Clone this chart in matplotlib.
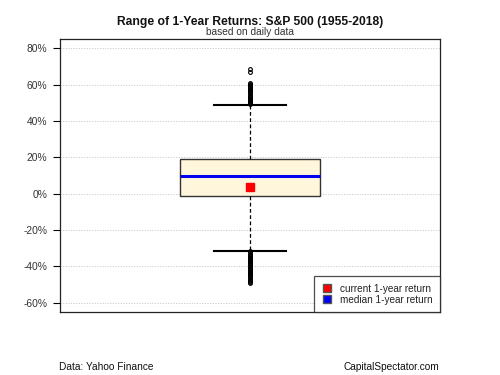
import matplotlib
matplotlib.use("Agg")
import matplotlib.pyplot as plt
from matplotlib.lines import Line2D

plt.rcParams['font.family'] = ['Liberation Sans', 'DejaVu Sans']

# Box statistics (percent)
q1 = -1.3
median = 9.7
q3 = 19.0
whisker_low = -31.4
whisker_high = 48.9
current = 3.9
upper_outliers = [49.3, 49.8, 50.4, 51.0, 51.6, 52.2, 52.8, 53.4, 54.0, 54.6, 55.2,
                  55.8, 56.4, 57.0, 57.6, 58.2, 58.8, 59.4, 60.0, 60.6, 61.2, 67.2, 68.6]
lower_outliers = [-31.8, -32.4, -33.0, -33.6, -34.2, -34.8, -35.4, -36.0, -36.6, -37.2,
                  -37.8, -38.4, -39.0, -39.6, -40.2, -40.8, -41.4, -42.0, -42.6, -43.2,
                  -43.8, -44.4, -45.0, -45.6, -46.2, -46.8, -47.4, -48.0, -48.6, -49.2]
yticks = [-60, -40, -20, 0, 20, 40, 60, 80]
ytick_labels = [f"{t}%" for t in yticks]

fig = plt.figure(figsize=(5, 3.75), dpi=100)
ax = fig.add_axes([0.12, 0.1667, 0.76, 0.7293])

ax.set_xlim(0, 1)
ax.set_ylim(-65.5, 85.2)
for t in yticks:
    ax.axhline(t, color='#cccccc', lw=0.7, ls=(0, (1.2, 1.5)), zorder=0)

ax.bxp([{
    'med': median, 'q1': q1, 'q3': q3,
    'whislo': whisker_low, 'whishi': whisker_high,
    'fliers': upper_outliers + lower_outliers,
}], positions=[0.5], widths=0.371, patch_artist=True, showfliers=True,
    boxprops=dict(facecolor='#fff6dc', edgecolor='#333333', lw=1.0),
    medianprops=dict(color='#0000ee', lw=2.2),
    whiskerprops=dict(color='black', lw=0.9, ls=(0, (3, 2))),
    capprops=dict(color='black', lw=1.5),
    capwidths=0.188,
    flierprops=dict(marker='o', markersize=2.7, markerfacecolor='none',
                    markeredgecolor='black', markeredgewidth=0.8))

ax.plot([0.5], [current], marker='s', color='#ff0000', markersize=5.5, ls='none', zorder=5)

ax.set_xticks([])
ax.set_yticks(yticks)
ax.set_yticklabels(ytick_labels, fontsize=7.4, color='#333333')
ax.tick_params(axis='y', length=5, width=0.8, pad=4)
for s in ax.spines.values():
    s.set_color('#222222')
    s.set_linewidth(0.9)

handles = [Line2D([0], [0], marker='s', color='none', markerfacecolor='#ff0000',
                  markeredgecolor='#555555', markersize=6),
           Line2D([0], [0], marker='s', color='none', markerfacecolor='#0000ff',
                  markeredgecolor='#555555', markersize=6)]
leg = ax.legend(handles, ['current 1-year return', 'median 1-year return'],
                loc='lower right', fontsize=7.2, frameon=True, fancybox=False,
                borderaxespad=0, handlelength=1.0, handletextpad=0.8,
                labelspacing=0.12, borderpad=0.75, labelcolor='#222222')
leg.get_frame().set_edgecolor('#222222')
leg.get_frame().set_linewidth(0.9)

fig.text(0.5, 0.940, 'Range of 1-Year Returns: S&P 500 (1955-2018)', ha='center',
         va='center', fontsize=8.7, fontweight='bold', color='#111111')
fig.text(0.5, 0.914, 'based on daily data', ha='center', va='center',
         fontsize=7.3, color='#333333')
fig.text(0.118, 0.021, 'Data: Yahoo Finance', ha='left', va='center', fontsize=7.3, color='#111111')
fig.text(0.879, 0.021, 'CapitalSpectator.com', ha='right', va='center', fontsize=7.3, color='#111111')

fig.savefig('out.png', dpi=100)
